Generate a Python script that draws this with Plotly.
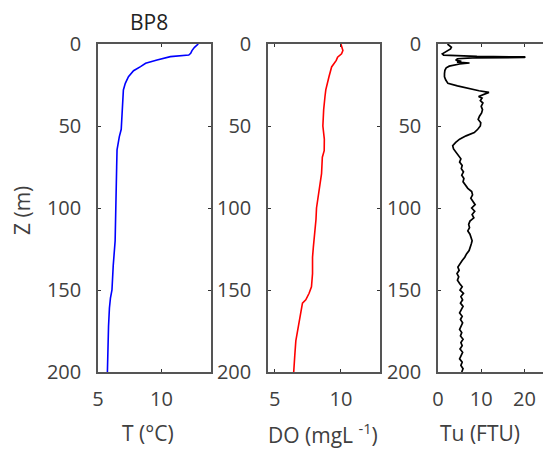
import plotly.graph_objects as go

# temperature profile
t_depth = [0, 2, 4, 5.7, 6.7, 7.7, 9.8, 11.8, 13.8, 16.3, 19.9, 24, 28, 35, 42, 52,
           56.5, 64.6, 75, 88, 100, 110, 120, 135, 150, 155, 161, 172, 186, 200]
t_vals = [12.9, 12.6, 12.4, 12.3, 12.15, 10.7, 9.65, 8.75, 8.35, 7.8, 7.4, 7.15, 7.0,
          6.96, 6.93, 6.83, 6.68, 6.5, 6.47, 6.45, 6.43, 6.4, 6.35, 6.2, 6.1, 5.98,
          5.9, 5.83, 5.78, 5.74]

# dissolved oxygen profile
do_depth = [0, 2, 4, 6, 8, 10, 14, 20, 28, 32, 40, 50, 55, 58, 65, 69, 79, 90, 100,
            107, 115, 121, 124, 130, 140, 148, 152, 156, 158, 164, 172, 181, 190, 200]
do_vals = [10.0, 10.1, 10.15, 10.05, 9.75, 9.65, 9.3, 9.1, 8.86, 8.8, 8.7, 8.64,
           8.7, 8.75, 8.74, 8.6, 8.54, 8.36, 8.16, 8.12, 8.05, 8.0, 7.92, 7.86,
           7.86, 7.78, 7.6, 7.35, 7.1, 6.97, 6.8, 6.6, 6.52, 6.44]

# turbidity profile
tu_depth = [0, 1, 2, 3, 4, 5, 6, 6.8, 7.6, 7.9, 8.2, 8.5, 9.0, 9.8, 10.5, 11.0, 11.6,
            12.2, 12.8, 13.5, 14.5, 16, 18, 20, 22, 24, 25.5, 27, 28.5, 29.5, 30.5,
            32, 33, 34.5, 36, 38, 40, 42, 44, 46, 48, 50, 52, 54, 56, 58, 60, 62, 64,
            66, 68, 70, 72, 74, 76, 78, 80, 82, 84, 86, 88, 90, 92, 94, 96, 98, 100,
            102, 104, 106, 108, 110, 112, 114, 116, 118, 120, 122, 124, 126, 128, 130,
            132, 134, 136, 138, 140, 142, 144, 146, 148, 150, 152, 154, 156, 158, 160,
            162, 164, 166, 168, 170, 172, 174, 176, 178, 180, 182, 184, 186, 188, 190,
            192, 194, 196, 198, 200]
tu_vals = [2.2, 2.8, 3.1, 2.9, 2.3, 1.6, 1.0, 1.3, 9.0, 20.2, 20.0, 8.0, 4.5, 4.1,
           5.4, 4.4, 7.3, 5.0, 3.6, 2.6, 1.9, 1.6, 1.5, 1.5, 1.8, 2.3, 4.5, 6.8, 9.5,
           11.8, 10.8, 9.4, 10.2, 9.8, 10.4, 10.0, 10.3, 10.1, 9.6, 9.3, 9.9, 9.8, 9.2,
           8.4, 6.5, 5.0, 4.1, 3.4, 3.6, 4.1, 4.7, 5.3, 5.0, 5.6, 5.4, 5.9, 5.5, 6.0,
           5.8, 6.4, 6.9, 7.8, 8.0, 7.6, 8.2, 8.6, 7.8, 8.5, 7.9, 8.3, 7.4, 7.1, 7.3,
           6.9, 7.4, 7.6, 7.9, 7.7, 7.5, 7.2, 6.6, 6.2, 5.6, 5.1, 4.6, 4.9, 4.4, 4.8,
           4.5, 5.0, 5.6, 5.1, 5.9, 5.3, 5.7, 5.2, 5.8, 5.4, 5.0, 5.6, 5.2, 5.7, 5.3,
           5.0, 5.5, 5.2, 5.8, 5.3, 5.6, 5.1, 5.7, 5.4, 5.0, 5.6, 5.3, 5.8, 5.5]

depth_ticks = [0, 50, 100, 150, 200]

# the page body adds an 8 px margin, so the figure is drawn 8 px smaller
OFF = 8
W, H = 551 - OFF, 459 - OFF
FONT = "Open Sans"
GREY = "#404040"


def px_x(sx):
    return (sx - OFF) / W


def px_y(sy):
    return 1 - (sy - OFF) / H


fig = go.Figure()
fig.add_trace(go.Scatter(x=t_vals, y=t_depth, mode="lines",
                         line=dict(color="#0000ff", width=1.6), xaxis="x", yaxis="y"))
fig.add_trace(go.Scatter(x=do_vals, y=do_depth, mode="lines",
                         line=dict(color="#ff0000", width=1.6), xaxis="x2", yaxis="y2"))
fig.add_trace(go.Scatter(x=tu_vals, y=tu_depth, mode="lines",
                         line=dict(color="#000000", width=1.7), xaxis="x3", yaxis="y3"))


def xax(dom, rng, ticks, anchor):
    return dict(domain=dom, range=rng, tickvals=ticks, anchor=anchor,
                showline=True, mirror="ticks", linecolor="#555555", linewidth=1.5,
                ticks="inside", ticklen=3, tickcolor="#333333", showgrid=False,
                zeroline=False, ticklabelstandoff=8, automargin=False,
                tickfont=dict(family=FONT, size=20, color=GREY))


def yax(anchor):
    return dict(domain=[px_y(372), px_y(44)], range=[200, 0], tickvals=depth_ticks,
                anchor=anchor, showline=True, mirror="ticks", linecolor="#555555",
                linewidth=1.5, ticks="inside", ticklen=3, tickcolor="#333333",
                showgrid=False, zeroline=False, ticklabelstandoff=11, automargin=False,
                tickfont=dict(family=FONT, size=20, color=GREY))


fig.update_layout(
    width=W, height=H,
    margin=dict(l=0, r=0, t=0, b=0, autoexpand=False),
    paper_bgcolor="white", plot_bgcolor="white",
    showlegend=False,
    xaxis=xax([px_x(98), px_x(211)], [5, 13.9], [5, 10], "y"),
    xaxis2=xax([px_x(268), px_x(380)], [4.5, 12.95], [5, 10], "y2"),
    xaxis3=xax([px_x(438), px_x(549)], [0, 25.7], [0, 10, 20], "y3"),
    yaxis=yax("x"),
    yaxis2=yax("x2"),
    yaxis3=yax("x3"),
)

notes = [
    ("BP8", 149, 22, 0, "#222222", 21),
    ("Z (m)", 22, 211, -90, GREY, 21),
    ("T (°C)", 148, 433, 0, GREY, 21),
    ("DO (mgL <sup>-1</sup>)", 323, 433, 0, GREY, 21),
    ("Tu (FTU)", 480, 433, 0, GREY, 21),
]
for text, sx, sy, ang, col, size in notes:
    fig.add_annotation(text=text, x=px_x(sx), y=px_y(sy), xref="paper", yref="paper",
                       showarrow=False, textangle=ang, xanchor="center", yanchor="middle",
                       font=dict(family=FONT, size=size, color=col))

fig.write_html("out.html")
